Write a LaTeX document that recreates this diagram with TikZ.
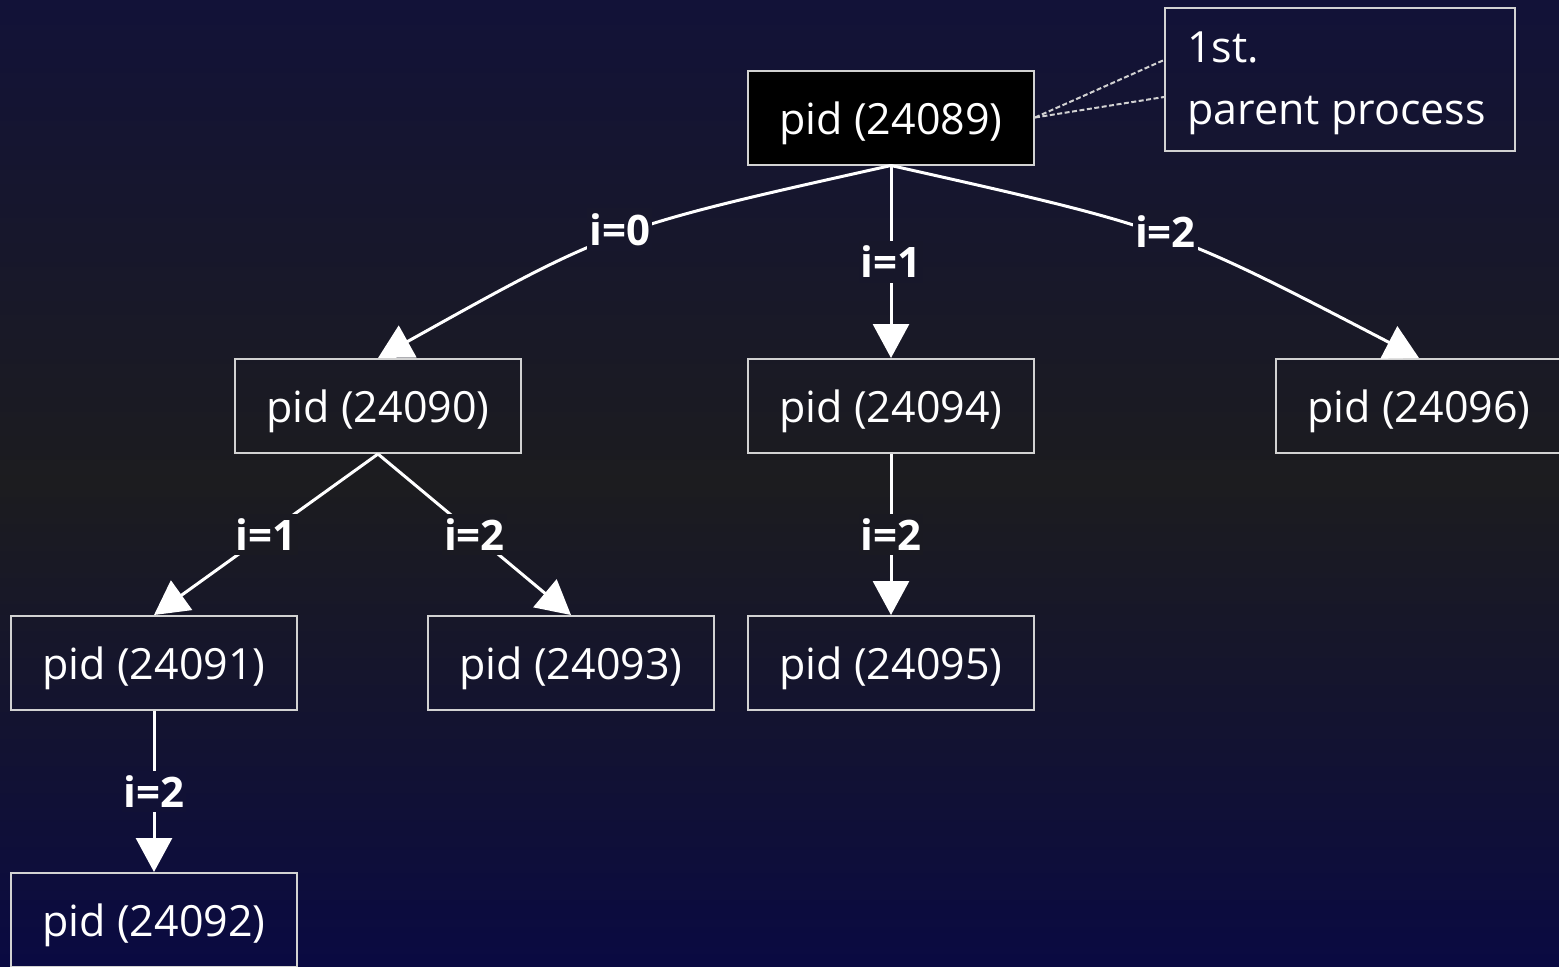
\documentclass[tikz,border=0pt]{standalone}
\usepackage{fontspec}
\setmainfont{Open Sans}
\usetikzlibrary{arrows.meta,calc}
\definecolor{bgtop}{RGB}{18,18,56}
\definecolor{bgmid}{RGB}{28,28,31}
\definecolor{bgbot}{RGB}{10,10,66}
\definecolor{boxline}{RGB}{210,210,210}
\definecolor{lblA}{RGB}{23,23,44}
\definecolor{lblA2}{RGB}{23,23,42}
\definecolor{lblB}{RGB}{26,26,34}
\definecolor{lblC}{RGB}{17,17,53}
\begin{document}
\begin{tikzpicture}[x=1pt,y=-1pt,
  pbox/.style={draw=boxline, line width=2pt, minimum width=286pt, minimum height=94pt, inner sep=0pt, text height=33pt, text depth=0pt, text=white, font=\fontsize{43}{50}\selectfont},
  edge/.style={draw=white, line width=3pt, -{Triangle[length=34pt,width=36pt]}},
  lbl/.style={text=white, font=\bfseries\fontsize{42}{48}\selectfont, inner xsep=2pt, inner ysep=5pt},
  notetext/.style={text=white, font=\fontsize{43}{50}\selectfont, inner sep=0pt, anchor=base west},
  pointer/.style={draw=boxline, line width=2pt, dash pattern=on 5pt off 2.5pt}
]
\shade[top color=bgtop, bottom color=bgmid] (0,0) rectangle (1559,484);
\shade[top color=bgmid, bottom color=bgbot] (0,483) rectangle (1559,967);
\useasboundingbox (0,0) rectangle (1559,967);

\node[pbox, fill=black] (n89) at (891,117.5) {pid (24089)};
\node[pbox] (n90) at (378,406) {pid (24090)};
\node[pbox] (n94) at (891,406) {pid (24094)};
\node[pbox] (n96) at (1419,406) {pid (24096)};
\node[pbox] (n91) at (154,663) {pid (24091)};
\node[pbox] (n93) at (571,663) {pid (24093)};
\node[pbox] (n95) at (891,663) {pid (24095)};
\node[pbox] (n92) at (154,920) {pid (24092)};

\node[draw=boxline, line width=2pt, minimum width=350pt, minimum height=143pt, inner sep=0pt, anchor=north west] (note) at (1164,7) {};
\node[notetext] (t1) at (1187,62) {1st.};
\node[notetext] (t2) at (1187,124) {parent process};
\draw[pointer] (n89.east) -- ($(note.north west)+(0,53)$);
\draw[pointer] (n89.east) -- ($(note.north west)+(0,90)$);

\draw[edge] (n89.south) .. controls (611,228) .. (n90.north)
  node[lbl, fill=lblA, pos=0.5, xshift=3pt, yshift=7pt] {i=0};
\draw[edge] (n89.south) -- (n94.north)
  node[lbl, fill=lblA2, pos=0.5] {i=1};
\draw[edge] (n89.south) .. controls (1169,228) .. (n96.north)
  node[lbl, fill=lblA, pos=0.5, yshift=5pt] {i=2};
\draw[edge] (n90.south) -- (n91.north)
  node[lbl, fill=lblB, pos=0.5] {i=1};
\draw[edge] (n90.south) -- (n93.north)
  node[lbl, fill=lblB, pos=0.5] {i=2};
\draw[edge] (n94.south) -- (n95.north)
  node[lbl, fill=lblB, pos=0.5] {i=2};
\draw[edge] (n91.south) -- (n92.north)
  node[lbl, fill=lblC, pos=0.5] {i=2};
\end{tikzpicture}
\end{document}
